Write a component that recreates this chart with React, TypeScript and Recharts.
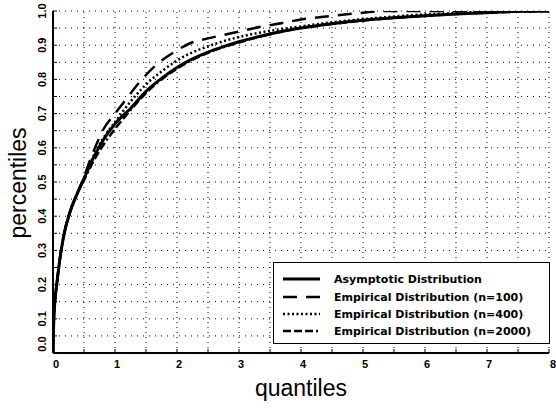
import React from "react";
import { LineChart, Line, XAxis, YAxis, CartesianGrid, ReferenceLine } from "recharts";

// asymptotic distribution
const qAsym = [0, 0.01, 0.03, 0.06, 0.1, 0.17, 0.27, 0.4, 0.5, 0.65, 0.8, 1.0, 1.25, 1.5, 1.75, 2.0, 2.25, 2.5, 2.75, 3.0, 3.5, 4.0, 4.5, 5.0, 5.5, 6.0, 6.5, 7.0, 7.5, 8.0];
const vAsym = [0, 0.08, 0.15, 0.2, 0.26, 0.34, 0.41, 0.47, 0.51, 0.57, 0.62, 0.67, 0.715, 0.765, 0.803, 0.835, 0.86, 0.88, 0.896, 0.91, 0.933, 0.95, 0.963, 0.973, 0.98, 0.986, 0.991, 0.995, 0.999, 1.0];

// empirical n=100
const q100 = [0, 0.01, 0.03, 0.06, 0.1, 0.17, 0.27, 0.4, 0.5, 0.6, 0.7, 0.8, 1.0, 1.15, 1.4, 1.65, 2.0, 2.2, 2.5, 2.75, 3.0, 3.35, 3.7, 4.0, 4.5, 5.0, 5.3, 8.0];
const v100 = [0, 0.08, 0.15, 0.2, 0.26, 0.34, 0.41, 0.47, 0.515, 0.565, 0.61, 0.65, 0.7, 0.735, 0.793, 0.84, 0.885, 0.905, 0.92, 0.93, 0.94, 0.954, 0.965, 0.975, 0.986, 0.995, 1.0, 1.0];

// empirical n=400
const q400 = [0, 0.01, 0.03, 0.06, 0.1, 0.17, 0.27, 0.4, 0.5, 0.65, 0.8, 1.0, 1.25, 1.5, 1.8, 2.1, 2.4, 2.65, 3.0, 3.2, 3.6, 4.0, 4.5, 5.0, 5.5, 6.0, 6.5, 7.0, 8.0];
const v400 = [0, 0.08, 0.15, 0.2, 0.26, 0.34, 0.41, 0.47, 0.51, 0.575, 0.625, 0.675, 0.735, 0.785, 0.83, 0.866, 0.89, 0.906, 0.924, 0.932, 0.945, 0.955, 0.967, 0.976, 0.984, 0.99, 0.994, 0.998, 1.0];

// empirical n=2000
const q2000 = [0, 0.01, 0.03, 0.06, 0.1, 0.17, 0.27, 0.4, 0.5, 0.65, 0.8, 1.0, 1.25, 1.5, 1.75, 2.05, 2.5, 3.0, 3.5, 4.0, 4.5, 5.0, 5.5, 6.0, 6.5, 7.0, 7.5, 8.0];
const v2000 = [0, 0.08, 0.15, 0.2, 0.26, 0.34, 0.41, 0.47, 0.505, 0.56, 0.605, 0.655, 0.71, 0.76, 0.8, 0.837, 0.878, 0.908, 0.932, 0.95, 0.962, 0.972, 0.98, 0.986, 0.991, 0.995, 0.998, 1.0];

const xGrid = [0, 0.5, 1, 1.5, 2, 2.5, 3, 3.5, 4, 4.5, 5, 5.5, 6, 6.5, 7, 7.5, 8];
const yGrid = [0, 0.05, 0.1, 0.15, 0.2, 0.25, 0.3, 0.35, 0.4, 0.45, 0.5, 0.55, 0.6, 0.65, 0.7, 0.75, 0.8, 0.85, 0.9, 0.95, 1];
const xLabels = [0, 1, 2, 3, 4, 5, 6, 7, 8];
const yLabels = ["0.0", "0.1", "0.2", "0.3", "0.4", "0.5", "0.6", "0.7", "0.8", "0.9", "1.0"];

const zip = (qs: number[], vs: number[]) => qs.map((q, i) => ({ q, v: vs[i] }));

const series = [
  { name: "Asymptotic Distribution", data: zip(qAsym, vAsym), width: 3, dash: undefined },
  { name: "Empirical Distribution (n=100)", data: zip(q100, v100), width: 2.5, dash: "14 9" },
  { name: "Empirical Distribution (n=400)", data: zip(q400, v400), width: 2.5, dash: "2 2.5" },
  { name: "Empirical Distribution (n=2000)", data: zip(q2000, v2000), width: 2.5, dash: "8 3 8 3 8 3 2 3" },
];

const FONT = "'Liberation Sans', Arial, sans-serif";
const LEGEND_FONT = "'DejaVu Sans', sans-serif";
const TICK = 4;

const isX = (v: number) => xLabels.some((l) => Math.abs(l - v) < 1e-6);
const yLabel = (v: number) => yLabels.find((l) => Math.abs(parseFloat(l) - v) < 1e-6);

const BottomTick = ({ x, y, payload }: any) => {
  const dx = payload.value === 0 ? 3 : payload.value === 8 ? 4 : 2;
  return (
    <g>
      <line x1={x} x2={x} y1={y} y2={y - TICK} stroke="#000" />
      {isX(payload.value) && (
        <text x={x + dx} y={y + 15} textAnchor="middle" fontFamily={FONT} fontWeight="bold" fontSize={11} fill="#000">
          {payload.value}
        </text>
      )}
    </g>
  );
};

const TopTick = ({ x, y }: any) => <line x1={x} x2={x} y1={y} y2={y + TICK} stroke="#000" />;
const RightTick = ({ x, y }: any) => <line x1={x} x2={x - TICK} y1={y} y2={y} stroke="#000" />;

const LeftTick = ({ x, y, payload }: any) => {
  const lbl = yLabel(payload.value);
  const ty = payload.value === 0 ? y - 9 : y;
  return (
    <g>
      <line x1={x} x2={x + TICK} y1={y} y2={y} stroke="#000" />
      {lbl && (
        <text x={46} y={ty} transform={`rotate(-90, 46, ${ty})`} textAnchor="middle" fontFamily={FONT} fontWeight="bold" fontSize={11} fill="#000">
          {lbl}
        </text>
      )}
    </g>
  );
};

const Legend = () => {
  const rows = [16, 34, 51, 68];
  return (
    <div style={{ position: "absolute", left: 273, top: 262, width: 275, height: 80, border: "1.5px solid #000", background: "#fff" }}>
      <svg width={275} height={80}>
        {series.map((s, i) => (
          <g key={s.name}>
            <line x1={9} x2={46} y1={rows[i]} y2={rows[i]} stroke="#000" strokeWidth={s.width} strokeDasharray={s.dash} />
            <text x={60} y={rows[i] + 4} fontFamily={LEGEND_FONT} fontWeight="bold" fontSize={11} fill="#000">
              {s.name}
            </text>
          </g>
        ))}
      </svg>
    </div>
  );
};

export default function App() {
  return (
    <div style={{ position: "absolute", left: 0, top: 0, width: 556, height: 410, background: "#fff" }}>
      <LineChart width={556} height={410} margin={{ top: 11, right: 7, bottom: 0, left: 0 }}>
        <CartesianGrid stroke="#000" strokeDasharray="1 5" vertical={false} />
        {xGrid.map((g) => (
          <ReferenceLine key={`vx${g}`} x={g} stroke="#000" strokeDasharray="1 4" />
        ))}
        <XAxis
          type="number"
          dataKey="q"
          domain={[0, 8]}
          ticks={xGrid}
          interval={0}
          height={57}
          tickSize={0}
          tickMargin={0}
          tick={BottomTick}
          axisLine={{ stroke: "#000", strokeWidth: 2 }}
          allowDataOverflow
          label={{
            content: () => (
              <text x={301} y={396} textAnchor="middle" fontFamily={FONT} fontSize={23} fill="#000">
                quantiles
              </text>
            ),
          }}
        />
        <XAxis
          xAxisId="top"
          orientation="top"
          type="number"
          domain={[0, 8]}
          ticks={xGrid}
          interval={0}
          height={0}
          tickSize={0}
          tickMargin={0}
          tick={TopTick}
          axisLine={{ stroke: "#000", strokeWidth: 2 }}
          allowDataOverflow
        />
        <YAxis
          type="number"
          domain={[0, 1]}
          ticks={yGrid}
          interval={0}
          width={53}
          tickSize={0}
          tickMargin={0}
          tick={LeftTick}
          axisLine={{ stroke: "#000", strokeWidth: 2 }}
          allowDataOverflow
          label={{
            content: () => (
              <text x={26} y={183} transform="rotate(-90, 26, 183)" textAnchor="middle" fontFamily={FONT} fontSize={23} fill="#000">
                percentiles
              </text>
            ),
          }}
        />
        <YAxis
          yAxisId="right"
          orientation="right"
          type="number"
          domain={[0, 1]}
          ticks={yGrid}
          interval={0}
          width={0}
          tickSize={0}
          tickMargin={0}
          tick={RightTick}
          axisLine={{ stroke: "#000", strokeWidth: 1.5 }}
          allowDataOverflow
        />
        {series.map((s) => (
          <Line
            key={s.name}
            data={s.data}
            dataKey="v"
            type="monotone"
            stroke="#000"
            strokeWidth={s.width}
            strokeDasharray={s.dash}
            dot={false}
            isAnimationActive={false}
          />
        ))}
      </LineChart>
      <Legend />
    </div>
  );
}
